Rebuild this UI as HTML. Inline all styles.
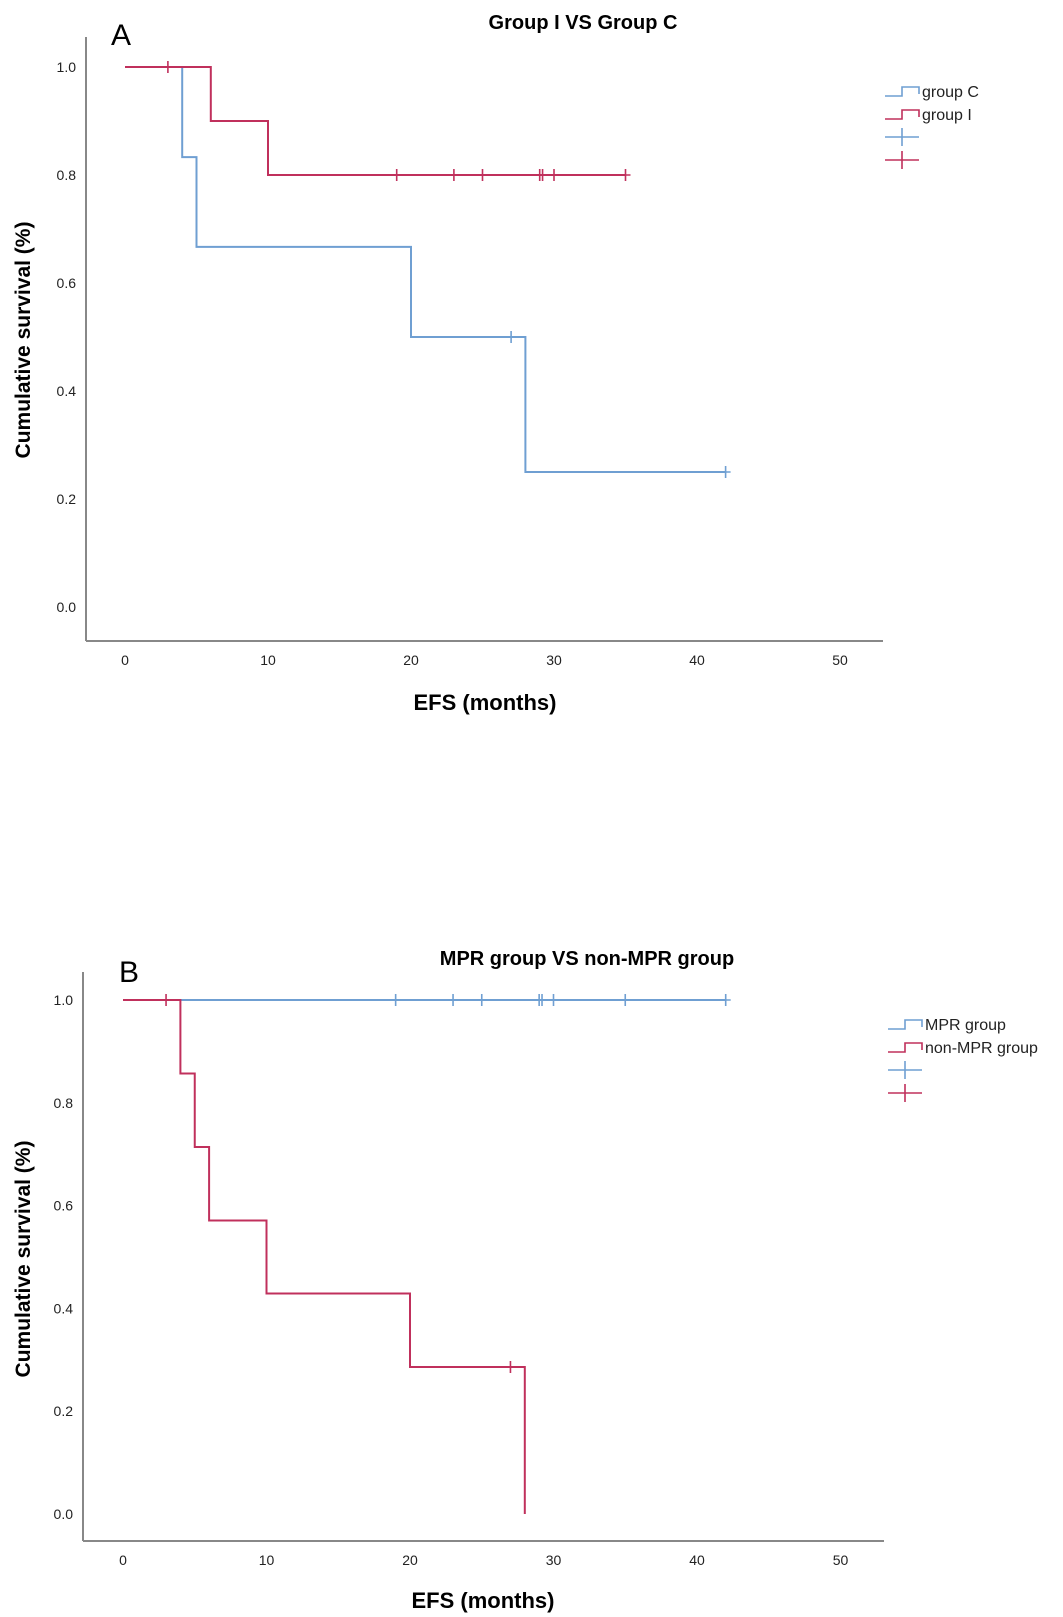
<!DOCTYPE html>
<html><head><meta charset="utf-8"><style>
html,body{margin:0;padding:0;background:#fff;}
svg{display:block;font-family:"Liberation Sans",Arial,sans-serif;}
</style></head><body>
<svg id="svg" width="1063" height="1617" viewBox="0 0 1063 1617">
<g id="panelA"></g>
<g id="panelB"></g>
</svg>
<script>
const xTicks=[0,10,20,30,40,50];
const yTicks=[0,0.2,0.4,0.6,0.8,1.0];
// Panel A
const aC_times=[0,4,5,20,28,42];
const aC_surv=[1,0.833,0.667,0.5,0.25,0.25];
const aC_censT=[27,42];
const aC_censS=[0.5,0.25];
const aI_times=[0,6,10,35];
const aI_surv=[1,0.9,0.8,0.8];
const aI_censT=[3,19,23,25,29,29.2,30,35];
const aI_censS=[1,0.8,0.8,0.8,0.8,0.8,0.8,0.8];
// Panel B
const bM_times=[0,42];
const bM_surv=[1,1];
const bM_censT=[19,23,25,29,29.2,30,35,42];
const bM_censS=[1,1,1,1,1,1,1,1];
const bN_times=[0,4,5,6,10,20,28,28];
const bN_surv=[1,0.857,0.714,0.571,0.429,0.286,0,0];
const bN_censT=[3,27];
const bN_censS=[1,0.286];

const NS="http://www.w3.org/2000/svg";
const BLUE="#6f9fd2",RED="#c0305c";
function mk(parent,tag,attrs,text){const e=document.createElementNS(NS,tag);for(const k in attrs)e.setAttribute(k,attrs[k]);if(text!==undefined)e.textContent=text;parent.appendChild(e);return e;}

function panel(g,cfg){
  const sx=v=>cfg.x0+v*cfg.pxX, sy=v=>cfg.y0-v*cfg.pxY;
  let e;
  e=mk(g,'text',{x:cfg.letterX,y:cfg.letterY,'font-size':30},cfg.letter);
  
  
  e=mk(g,'text',{x:cfg.titleX,y:cfg.titleY,'font-size':20,'font-weight':'bold','text-anchor':'middle'},cfg.title);
  
  
  e=mk(g,'line',{x1:cfg.axL,y1:cfg.axT,x2:cfg.axL,y2:cfg.axB,stroke:'#888','stroke-width':2});
  
  
  e=mk(g,'line',{x1:cfg.axL,y1:cfg.axB,x2:cfg.axR,y2:cfg.axB,stroke:'#888','stroke-width':2});
  
  
  yTicks.forEach(t=>{e=mk(g,'text',{x:cfg.axL-10,y:sy(t)+5,'font-size':14,'text-anchor':'end',fill:'#222'},t.toFixed(1));
    
    });
  xTicks.forEach(t=>{e=mk(g,'text',{x:sx(t),y:cfg.axB+24,'font-size':14,'text-anchor':'middle',fill:'#222'},String(t));
    
    });
  e=mk(g,'text',{x:cfg.xtX,y:cfg.xtY,'font-size':22,'font-weight':'bold','text-anchor':'middle'},'EFS (months)');
  
  
  e=mk(g,'text',{x:0,y:0,'font-size':21,'font-weight':'bold','text-anchor':'middle',transform:`translate(${cfg.ytX},${cfg.ytY}) rotate(-90)`},'Cumulative survival (%)');
  
  
  cfg.series.forEach(s=>{
    let d=`M${sx(s.t[0])},${sy(s.s[0])}`;
    for(let i=1;i<s.t.length;i++){d+=` H${sx(s.t[i])} V${sy(s.s[i])}`;}
    e=mk(g,'path',{d:d,fill:'none',stroke:s.c,'stroke-width':2});
    
    
    s.ct.forEach((t,i)=>{const x=sx(t),y=sy(s.cs[i]);
      e=mk(g,'path',{d:`M${x},${y-6}V${y+6}M${x-5},${y}H${x+5}`,stroke:s.c,'stroke-width':1.6});
      
      });
  });
  cfg.legend.forEach((L,i)=>{
    const y=cfg.legY+i*cfg.legDy;
    let d = L.type==='step' ? `M${cfg.legX},${y+5}H${cfg.legX+17}V${y-4}H${cfg.legX+34}V${y+3}` : `M${cfg.legX},${y}H${cfg.legX+34}M${cfg.legX+17},${y-9}V${y+9}`;
    e=mk(g,'path',{d:d,fill:'none',stroke:L.c,'stroke-width':1.6});
    
    
    if(L.label){e=mk(g,'text',{x:cfg.legX+37,y:y+6,'font-size':16,fill:'#222'},L.label);
      
      }
  });
}
panel(document.getElementById('panelA'),{x0:125,pxX:14.3,y0:607,pxY:540,letter:'A',letterX:111,letterY:45,
  title:'Group I VS Group C',titleX:583,titleY:29,axL:86,axT:37,axB:641,axR:883,
  xtX:485,xtY:710,ytX:30,ytY:340,legX:885,legY:91,legDy:23,
  series:[{name:'group-c',t:aC_times,s:aC_surv,ct:aC_censT,cs:aC_censS,c:BLUE},
          {name:'group-i',t:aI_times,s:aI_surv,ct:aI_censT,cs:aI_censS,c:RED}],
  legend:[{type:'step',c:BLUE,label:'group C'},{type:'step',c:RED,label:'group I'},{type:'cross',c:BLUE},{type:'cross',c:RED}]});
panel(document.getElementById('panelB'),{x0:123,pxX:14.35,y0:1514,pxY:514,letter:'B',letterX:119,letterY:982,
  title:'MPR group VS non-MPR group',titleX:587,titleY:965,axL:83,axT:972,axB:1541,axR:884,
  xtX:483,xtY:1608,ytX:30,ytY:1259,legX:888,legY:1024,legDy:23,
  series:[{name:'mpr-group',t:bM_times,s:bM_surv,ct:bM_censT,cs:bM_censS,c:BLUE},
          {name:'non-mpr-group',t:bN_times,s:bN_surv,ct:bN_censT,cs:bN_censS,c:RED}],
  legend:[{type:'step',c:BLUE,label:'MPR group'},{type:'step',c:RED,label:'non-MPR group'},{type:'cross',c:BLUE},{type:'cross',c:RED}]});
</script>
</body></html>
